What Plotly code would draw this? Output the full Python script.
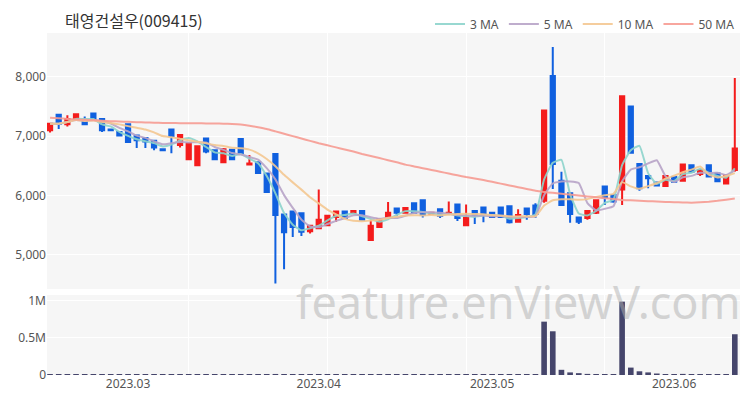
import pandas as pd
import plotly.graph_objects as go
from plotly.subplots import make_subplots

title_text = "태영건설우(009415)"
holidays = ["2023-03-01", "2023-05-05", "2023-05-29", "2023-06-06"]
dates = [d.strftime("%Y-%m-%d") for d in pd.bdate_range("2023-02-16", "2023-06-13")
         if d.strftime("%Y-%m-%d") not in holidays]

opens = [7100, 7360, 7200, 7270, 7240, 7380, 7290, 7110, 7070, 7200,
         7010, 6970, 6920, 6780, 7110, 6850, 6610, 6510, 6960, 6760,
         6560, 6770, 6950, 6520, 6560, 6370, 6700, 5680, 5730, 5700,
         5400, 5450, 5500, 5640, 5730, 5710, 5740, 5250, 5470, 5640,
         5780, 5710, 5870, 5920, 5690, 5770, 5690, 5850, 5500, 5740,
         5800, 5710, 5800, 5820, 5560, 5780, 5830, 5910, 8010, 6250,
         6040, 5630, 5620, 5710, 6150, 6010, 6100, 7500, 6530, 6330,
         6220, 6160, 6310, 6250, 6510, 6360, 6510, 6370, 6200, 6430]
highs = [7220, 7370, 7350, 7380, 7330, 7390, 7300, 7110, 7070, 7210,
         7010, 6970, 6920, 6780, 7130, 7030, 6890, 6840, 6970, 6770,
         6800, 6770, 6950, 6680, 6570, 6370, 6710, 5690, 5730, 5700,
         5500, 6100, 5670, 5740, 5730, 5740, 5740, 5590, 5600, 5890,
         5780, 5790, 5870, 5920, 5710, 5770, 5900, 5850, 5850, 5740,
         5800, 5710, 5800, 5820, 5770, 5780, 5870, 7430, 8500, 6400,
         6040, 5640, 5740, 5920, 6150, 6010, 7680, 7500, 6530, 6340,
         6220, 6330, 6310, 6520, 6510, 6430, 6510, 6370, 6340, 7980]
lows = [7060, 7120, 7160, 7260, 7200, 7280, 7070, 7100, 7000, 6890,
        6800, 6800, 6760, 6760, 6710, 6810, 6600, 6500, 6710, 6600,
        6550, 6610, 6710, 6520, 6360, 6060, 4520, 4760, 5300, 5320,
        5360, 5440, 5490, 5560, 5620, 5710, 5590, 5240, 5460, 5640,
        5650, 5710, 5710, 5630, 5690, 5620, 5690, 5570, 5500, 5520,
        5550, 5640, 5620, 5530, 5540, 5590, 5620, 5880, 6110, 5840,
        5540, 5520, 5590, 5690, 5840, 5880, 5840, 6720, 6080, 6120,
        6170, 6160, 6210, 6250, 6400, 6330, 6320, 6240, 6200, 6400]
closes = [7210, 7210, 7290, 7370, 7200, 7290, 7100, 7100, 7010, 6900,
          6930, 6910, 6810, 6760, 7000, 7020, 6880, 6830, 6740, 6610,
          6780, 6610, 6710, 6540, 6380, 6060, 5670, 5380, 5470, 5390,
          5490, 5590, 5660, 5730, 5620, 5740, 5590, 5490, 5600, 5710,
          5710, 5790, 5710, 5670, 5710, 5660, 5710, 5620, 5630, 5670,
          5690, 5640, 5640, 5550, 5670, 5690, 5690, 7430, 6530, 5840,
          5690, 5560, 5740, 5920, 5970, 5900, 7670, 6720, 6120, 6290,
          6170, 6330, 6230, 6520, 6400, 6430, 6320, 6240, 6340, 6790]
volumes = [1500, 2500, 1000, 2000, 1000, 1500, 3000, 1000, 1500, 4000,
           2000, 1500, 2500, 1000, 3500, 2000, 2500, 3000, 2500, 1500,
           2000, 1500, 2500, 1000, 2000, 3000, 14000, 5000, 2500, 2000,
           1500, 4000, 2000, 1500, 1000, 1000, 1500, 3000, 2000, 2500,
           1000, 1500, 2000, 2500, 1000, 1500, 2000, 2500, 2000, 1500,
           1500, 1000, 1500, 2000, 2000, 1500, 2500, 720000, 590000, 70000,
           35000, 25000, 15000, 8000, 10000, 6000, 990000, 100000, 50000, 35000,
           20000, 12000, 8000, 15000, 8000, 6000, 7000, 5000, 6000, 550000]
ma50 = [7310, 7300, 7290, 7280, 7275, 7268, 7260, 7252, 7245, 7240,
        7235, 7230, 7226, 7222, 7220, 7218, 7216, 7215, 7214, 7212,
        7210, 7205, 7195, 7175, 7150, 7120, 7080, 7040, 7000, 6960,
        6920, 6880, 6845, 6810, 6775, 6740, 6700, 6665, 6630, 6595,
        6560, 6520, 6490, 6460, 6430, 6400, 6370, 6340, 6310, 6285,
        6260, 6230, 6200, 6170, 6140, 6110, 6080, 6060, 6045, 6030,
        6015, 6000, 5985, 5970, 5955, 5940, 5925, 5918, 5910, 5905,
        5898, 5892, 5888, 5882, 5880, 5885, 5895, 5910, 5930, 5950]
month_labels = ["2023.03", "2023.04", "2023.05", "2023.06"]
price_ticks = [5000, 6000, 7000, 8000]
vol_ticks = [0, 500000, 1000000]
vol_tick_text = ["0", "0.5M", "1M"]

df = pd.DataFrame({"date": dates, "open": opens, "high": highs, "low": lows,
                   "close": closes, "volume": volumes, "ma50": ma50})
df["idx"] = range(len(df))
df["ma3"] = df["close"].rolling(3, min_periods=1).mean()
df["ma5"] = df["close"].rolling(5, min_periods=1).mean()
df["ma10"] = df["close"].rolling(10, min_periods=1).mean()

month_first = df.groupby(df["date"].str[:7])["idx"].min().tolist()[1:]
grid_idx = [16, 32, 48, 64]

RED = "#f41c1c"
BLUE = "#1060df"

# the page body adds an 8px offset; figure is sized so the plot lands where the reference has it
W, H = 742, 392

fig = make_subplots(rows=2, cols=1, shared_xaxes=True, vertical_spacing=0.0,
                    row_heights=[0.76, 0.24])

fig.add_trace(go.Candlestick(
    x=df["idx"], open=df["open"], high=df["high"], low=df["low"], close=df["close"],
    increasing=dict(line=dict(color=RED, width=2), fillcolor=RED),
    decreasing=dict(line=dict(color=BLUE, width=2), fillcolor=BLUE),
    whiskerwidth=0, showlegend=False, name="price"), row=1, col=1)

ma_specs = [("ma3", "3 MA", "#8dd4cc"), ("ma5", "5 MA", "#b8a4c8"),
            ("ma10", "10 MA", "#f4c892"), ("ma50", "50 MA", "#f79c93")]
for col, name, color in ma_specs:
    fig.add_trace(go.Scatter(x=df["idx"], y=df[col], mode="lines", name=name,
                             line=dict(color=color, width=2, shape="spline", smoothing=0.4),
                             opacity=0.9), row=1, col=1)

fig.add_trace(go.Bar(x=df["idx"], y=df["volume"], marker_color="#45456b",
                     marker_line_width=0, showlegend=False, name="volume", width=0.65),
              row=2, col=1)

axis_font = dict(family="Noto Sans, Inter, sans-serif", size=12, color="#555555")

fig.update_layout(
    width=W, height=H,
    margin=dict(l=39, r=10, t=25, b=25, autoexpand=False),
    paper_bgcolor="white", plot_bgcolor="#f6f6f6",
    legend=dict(orientation="h", x=1, xanchor="right", y=1.026, yanchor="middle",
                font=dict(family="Noto Sans, Inter, sans-serif", size=12, color="#555555"),
                bgcolor="rgba(0,0,0,0)", itemwidth=30, tracegroupgap=0),
    showlegend=True,
    bargap=0.3,
    annotations=[
        dict(text=title_text, xref="paper", yref="paper", x=(55 - 39) / 693, y=(367 - 12) / 342,
             xanchor="left", yanchor="middle", showarrow=False,
             font=dict(family="Noto Sans CJK KR, sans-serif", size=16, color="#333333")),
        dict(text="feature.enViewV.com", xref="paper", yref="paper",
             x=0.68, y=0.215, xanchor="center", yanchor="middle", showarrow=False,
             font=dict(family="Noto Sans, sans-serif", size=45,
                       color="rgba(175,175,175,0.5)")),
    ],
)

fig.update_xaxes(range=[-0.35, 79.6], showgrid=False, zeroline=False,
                 rangeslider_visible=False,
                 minor=dict(tickmode="array", tickvals=grid_idx, showgrid=True,
                            gridcolor="white", gridwidth=1, ticks=""),
                 tickmode="array", tickvals=month_first, ticktext=month_labels,
                 tickfont=axis_font, ticks="", showline=False)
fig.update_xaxes(showticklabels=False, row=1, col=1)

fig.update_yaxes(row=1, col=1, domain=[0.2515, 1.0], range=[4426, 8736],
                 tickvals=price_ticks, tickformat=",d", gridcolor="white", gridwidth=1,
                 zeroline=False, tickfont=axis_font, ticks="")
fig.update_yaxes(row=2, col=1, domain=[0.0, 0.234], range=[0, 1080000],
                 tickvals=vol_ticks, ticktext=vol_tick_text, gridcolor="white", gridwidth=1,
                 zeroline=False, tickfont=axis_font, ticks="")

fig.write_html("out.html")
